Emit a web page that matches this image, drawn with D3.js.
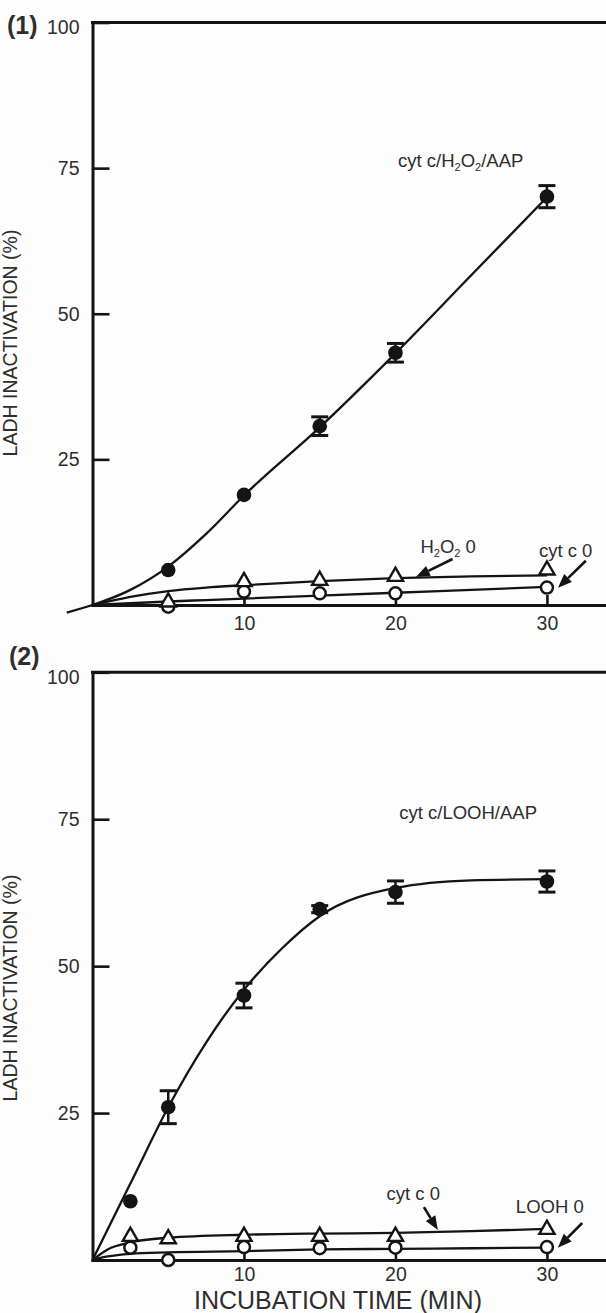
<!DOCTYPE html>
<html><head><meta charset="utf-8">
<script src="https://cdn.jsdelivr.net/npm/d3@7"></script>
<style>
html,body{margin:0;padding:0;background:#fff;}
svg{display:block;}
</style></head><body>
<svg id="chart" width="606" height="1313"></svg>
<script>
// ---------------- data ----------------
const xTicks = [10, 20, 30];
const yTicks = [25, 50, 75, 100];
const xTitle = "INCUBATION TIME (MIN)";
const yTitle = "LADH INACTIVATION (%)";

// Panel (1)
const timesP1 = [5, 10, 15, 20, 30];
const aapP1 = [6.0, 18.9, 30.7, 43.3, 70.1];
const aapErrP1 = [0, 0, 1.6, 1.6, 1.9];
const h2o2ZeroP1 = [0.5, 4.0, 4.2, 4.9, 6.0];
const cytcZeroP1 = [-0.3, 2.3, 2.0, 2.0, 3.0];
const fitTimesAapP1 = [-1.7, 0, 2.5, 5, 7.5, 10, 15, 20, 25, 30];
const fitAapP1 = [-1.3, 0, 2.6, 6.6, 12.2, 18.8, 30.5, 43.2, 56.6, 70.0];
const fitTimesP1 = [0, 2.5, 5, 7.5, 10, 15, 20, 25, 30];
const fitH2o2ZeroP1 = [0, 1.4, 2.4, 3.0, 3.4, 4.1, 4.6, 4.9, 5.1];
const fitCytcZeroP1 = [0, 0.3, 0.6, 0.85, 1.1, 1.6, 2.1, 2.6, 3.1];

// Panel (2)
const timesP2 = [2.5, 5, 10, 15, 20, 30];
const aapP2 = [10.0, 26.0, 45.0, 59.7, 62.6, 64.4];
const aapErrP2 = [0, 2.8, 2.1, 0.6, 1.9, 1.8];
const cytcZeroP2 = [4.0, 3.6, 4.0, 4.0, 4.0, 5.2];
const loohZeroP2 = [2.1, 0, 2.2, 2.0, 2.1, 2.2];
const fitTimesAapP2 = [0, 2.5, 5, 7.5, 10, 12.5, 15, 20, 25, 30];
const fitAapP2 = [0, 13, 26, 37, 46, 53, 58.5, 63.3, 64.6, 64.8];
const fitTimesP2 = [0, 1, 2.5, 5, 10, 15, 20, 25, 30];
const fitCytcZeroP2 = [0, 1.8, 3.0, 3.8, 4.3, 4.5, 4.6, 4.9, 5.3];
const fitLoohZeroP2 = [0, 0.6, 1.05, 1.3, 1.5, 1.8, 1.9, 2.0, 2.1];

// annotations (in data units: t = minutes, v = %)
const labelsP1 = [
  {t: 20.17, v: 75.2, parts: [["cyt c/H", 0], ["2", 1], ["O", 0], ["2", 1], ["/AAP", 0]]},
  {t: 21.65, v: 8.9, parts: [["H", 0], ["2", 1], ["O", 0], ["2", 1], [" 0", 0]]},
  {t: 29.47, v: 8.3, parts: [["cyt c 0", 0]]}
];
const arrowsP1 = [
  {from: [23.77, 7.9], to: [21.35, 4.8]},
  {from: [32.57, 7.6], to: [30.73, 2.95]}
];
const labelsP2 = [
  {t: 20.25, v: 75.1, parts: [["cyt c/LOOH/AAP", 0]]},
  {t: 19.41, v: 10.2, parts: [["cyt c 0", 0]]},
  {t: 27.95, v: 8.0, parts: [["LOOH 0", 0]]}
];
const arrowsP2 = [
  {from: [21.88, 9.0], to: [22.8, 5.1]},
  {from: [32.33, 6.3], to: [30.72, 2.1]}
];

// ---------------- drawing ----------------
const FONT = "'Liberation Sans', Arial, Helvetica, sans-serif";
const INK = "#141414";
const TXT = "#2e2e2e";
const svg = d3.select("#chart");
svg.append("rect").attr("width", 606).attr("height", 1313).attr("fill", "#fdfdfd");

function drawPanel(cfg) {
  const x = d3.scaleLinear().domain([0, 33.9]).range([92.5, 606]);
  const y = d3.scaleLinear().domain([0, 100]).range([cfg.y0, cfg.y100]);
  const g = svg.append("g");

  // fitted curves
  const line = d3.line().x(d => x(d[0])).y(d => y(d[1])).curve(d3.curveMonotoneX);
  cfg.fits.forEach(f => {
    g.append("path").datum(d3.zip(f.t, f.v)).attr("d", line)
      .attr("fill", "none").attr("stroke", INK).attr("stroke-width", 2.3);
  });

  // axes
  const xa = g.append("g").attr("transform", `translate(0,${y(0)})`)
    .call(d3.axisBottom(x).tickValues(xTicks).tickSizeInner(-10).tickSizeOuter(0).tickPadding(cfg.xPad));
  const ya = g.append("g").attr("transform", `translate(${x(0)},0)`)
    .call(d3.axisLeft(y).tickValues(yTicks).tickSizeInner(-17).tickSizeOuter(0).tickPadding(13));
  [xa, ya].forEach(a => {
    a.select(".domain").attr("stroke", INK).attr("stroke-width", 3).attr("stroke-linecap", "square");
    a.selectAll(".tick line").attr("stroke", INK).attr("stroke-width", 2.6);
    a.selectAll(".tick text").attr("font-family", FONT).attr("font-size", 19.5).attr("fill", TXT);
  });
  ya.selectAll(".tick text").filter(d => d === 100).attr("transform", "translate(0,5)");
  // top frame line
  g.append("line").attr("x1", x(0)).attr("x2", x(33.9)).attr("y1", y(100)).attr("y2", y(100))
    .attr("stroke", INK).attr("stroke-width", 3).attr("stroke-linecap", "square");

  // error bars
  const eb = d3.zip(cfg.times, cfg.filled, cfg.err).filter(d => d[2] > 0);
  eb.forEach(d => {
    g.append("line").attr("x1", x(d[0])).attr("x2", x(d[0])).attr("y1", y(d[1] - d[2])).attr("y2", y(d[1] + d[2]))
      .attr("stroke", INK).attr("stroke-width", 2.5);
    [d[1] - d[2], d[1] + d[2]].forEach(v => {
      g.append("line").attr("x1", x(d[0]) - 8.5).attr("x2", x(d[0]) + 8.5).attr("y1", y(v)).attr("y2", y(v))
        .attr("stroke", INK).attr("stroke-width", 3);
    });
  });

  // open circles
  g.selectAll(null).data(d3.zip(cfg.times, cfg.circles)).join("circle")
    .attr("cx", d => x(d[0])).attr("cy", d => y(d[1])).attr("r", 6)
    .attr("fill", "#fff").attr("stroke", INK).attr("stroke-width", 2.5);
  // open triangles
  const tri = d3.symbol(d3.symbolTriangle, 100);
  g.selectAll(null).data(d3.zip(cfg.times, cfg.triangles)).join("path")
    .attr("d", tri).attr("transform", d => `translate(${x(d[0])},${y(d[1])})`)
    .attr("fill", "#fff").attr("stroke", INK).attr("stroke-width", 2.4);
  // filled circles
  g.selectAll(null).data(d3.zip(cfg.times, cfg.filled)).join("circle")
    .attr("cx", d => x(d[0])).attr("cy", d => y(d[1])).attr("r", 7.3).attr("fill", INK);

  // annotations
  cfg.labels.forEach(l => {
    const t = g.append("text").attr("x", x(l.t)).attr("y", y(l.v))
      .attr("font-family", FONT).attr("font-size", 18.5).attr("fill", TXT);
    let prevSub = false;
    l.parts.forEach(p => {
      const s = t.append("tspan").text(p[0]);
      if (p[1]) s.attr("font-size", 11).attr("dy", 4);
      else if (prevSub) s.attr("dy", -4);
      prevSub = !!p[1];
    });
  });
  cfg.arrows.forEach(a => {
    const x1 = x(a.from[0]), y1 = y(a.from[1]), x2 = x(a.to[0]), y2 = y(a.to[1]);
    const ang = Math.atan2(y2 - y1, x2 - x1);
    const L = 14, W = 5.5;
    const bx = x2 - L * Math.cos(ang), by = y2 - L * Math.sin(ang);
    g.append("line").attr("x1", x1).attr("y1", y1).attr("x2", bx).attr("y2", by)
      .attr("stroke", INK).attr("stroke-width", 2.6);
    const px = -Math.sin(ang) * W, py = Math.cos(ang) * W;
    g.append("path").attr("d", `M${x2},${y2}L${bx + px},${by + py}L${bx - px},${by - py}Z`).attr("fill", INK);
  });

  // panel tag
  g.append("text").attr("x", cfg.tagX).attr("y", cfg.tagY).text(cfg.tag)
    .attr("font-family", FONT).attr("font-weight", "bold").attr("font-size", 25).attr("fill", TXT);
  // y title
  g.append("text").attr("transform", `translate(17,${cfg.yTitleC}) rotate(-90)`)
    .attr("text-anchor", "middle").text(yTitle)
    .attr("font-family", FONT).attr("font-size", 19.5).attr("fill", TXT);
  return {x, y};
}

drawPanel({
  y0: 605, y100: 22.5, times: timesP1, filled: aapP1, err: aapErrP1,
  triangles: h2o2ZeroP1, circles: cytcZeroP1,
  fits: [{t: fitTimesAapP1, v: fitAapP1}, {t: fitTimesP1, v: fitH2o2ZeroP1}, {t: fitTimesP1, v: fitCytcZeroP1}],
  labels: labelsP1, arrows: arrowsP1, tag: "(1)", tagX: 7, tagY: 34, yTitleC: 343, xPad: 11
});
drawPanel({
  y0: 1260, y100: 672.3, times: timesP2, filled: aapP2, err: aapErrP2,
  triangles: cytcZeroP2, circles: loohZeroP2,
  fits: [{t: fitTimesAapP2, v: fitAapP2}, {t: fitTimesP2, v: fitCytcZeroP2}, {t: fitTimesP2, v: fitLoohZeroP2}],
  labels: labelsP2, arrows: arrowsP2, tag: "(2)", tagX: 9, tagY: 665, yTitleC: 988, xPad: 7
});

svg.append("text").attr("x", 338).attr("y", 1309).attr("text-anchor", "middle").text(xTitle)
  .attr("font-family", FONT).attr("font-size", 25).attr("fill", TXT);
</script>
</body></html>
